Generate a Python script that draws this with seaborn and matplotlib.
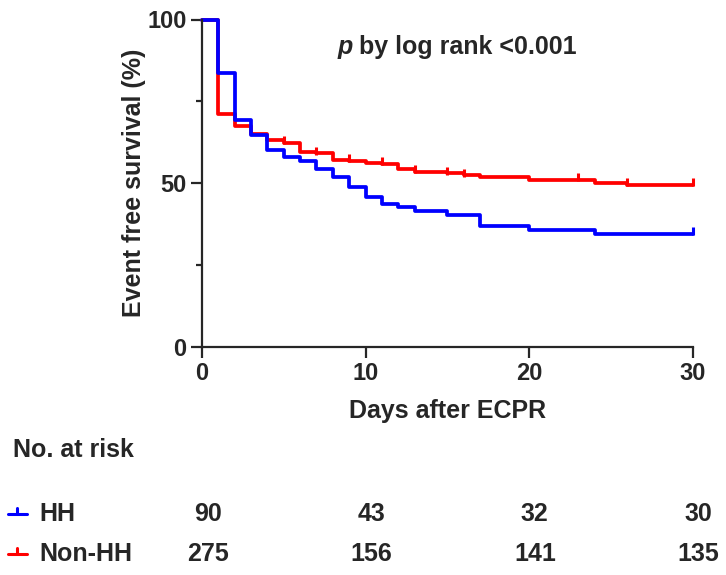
import matplotlib
matplotlib.use('Agg')
import matplotlib.pyplot as plt
import matplotlib.transforms as mtransforms
from matplotlib.lines import Line2D
import seaborn as sns
import numpy as np
import pandas as pd

# Kaplan-Meier steps (day, survival %)
hh_days = [0, 1, 2, 3, 4, 5, 6, 7, 8, 9, 10, 11, 12, 13, 15, 17, 20, 24, 30]
hh_surv = [100, 83.7, 69.3, 64.7, 60.1, 58.0, 56.8, 54.5, 52.0, 48.9, 45.7, 43.8, 42.7, 41.4,
           40.2, 36.8, 35.8, 34.6, 34.6]
nonhh_days = [0, 1, 2, 3, 4, 5, 6, 7, 8, 9, 10, 11, 12, 13, 15, 16, 17, 20, 24, 26, 30]
nonhh_surv = [100, 71.0, 67.4, 65.0, 63.2, 62.4, 59.6, 59.1, 57.2, 56.8, 56.2, 56.0, 54.2, 53.5,
              53.0, 52.4, 51.8, 51.1, 50.1, 49.6, 49.6]

# censor marks
hh_censor = [30]
nonhh_censor = [5, 7, 9, 11, 13, 15, 16, 23, 26, 30]

# numbers at risk
risk_times = [0, 10, 20, 30]
hh_risk = [90, 43, 32, 30]
nonhh_risk = [275, 156, 141, 135]

colors = {'HH': '#0000FF', 'Non-HH': '#FF0000'}

sns.set_style('ticks')
plt.rcParams['font.family'] = ['Liberation Sans', 'DejaVu Sans']
plt.rcParams['font.weight'] = 'bold'

df = pd.concat([
    pd.DataFrame({'day': hh_days, 'surv': hh_surv, 'group': 'HH'}),
    pd.DataFrame({'day': nonhh_days, 'surv': nonhh_surv, 'group': 'Non-HH'}),
])


def surv_at(days, surv, t):
    idx = np.searchsorted(days, t, side='right') - 1
    return surv[idx]


cens = pd.concat([
    pd.DataFrame({'day': hh_censor,
                  'surv': [surv_at(hh_days, hh_surv, t) for t in hh_censor], 'group': 'HH'}),
    pd.DataFrame({'day': nonhh_censor,
                  'surv': [surv_at(nonhh_days, nonhh_surv, t) for t in nonhh_censor], 'group': 'Non-HH'}),
])

W, H = 726, 575
fig = plt.figure(figsize=(W / 100, H / 100), dpi=100)
ax = fig.add_axes([202 / W, 1 - 347 / H, 490.7 / W, 327.5 / H])

# red first so the blue curve sits on top, as in the original
sns.lineplot(data=df, x='day', y='surv', hue='group', hue_order=['Non-HH', 'HH'],
             palette=colors, estimator=None, drawstyle='steps-post', linewidth=2.7,
             legend=False, ax=ax, clip_on=False)
for g in ['Non-HH', 'HH']:
    sub = cens[cens['group'] == g]
    ax.plot(sub['day'], sub['surv'] + 0.8, linestyle='none', marker='|', markersize=6,
            markeredgewidth=2.2, color=colors[g], clip_on=False)

ax.set_xlim(0, 30)
ax.set_ylim(0, 100)
ax.set_xticks([0, 10, 20, 30])
ax.set_yticks([0, 50, 100])
ax.set_yticks([25, 75], minor=True)
for s in ['top', 'right']:
    ax.spines[s].set_visible(False)
for s in ['left', 'bottom']:
    ax.spines[s].set_linewidth(1.6)
ax.tick_params(axis='both', which='major', length=8, width=1.6, labelsize=17, pad=3)
ax.tick_params(axis='y', which='minor', length=4, width=1.6)
ax.set_xlabel('Days after ECPR', fontsize=18, fontweight='bold', labelpad=10)
ax.set_ylabel('Event free survival (%)', fontsize=18, fontweight='bold', labelpad=1)

fig.text(353 / W, 1 - 47 / H, 'p', fontsize=18, fontweight='bold', fontstyle='italic',
         ha='right', va='center')
fig.text(359 / W, 1 - 47 / H, 'by log rank <0.001', fontsize=18, fontweight='bold',
         ha='left', va='center')

# number at risk table
fig.text(13 / W, 1 - 450 / H, 'No. at risk', fontsize=18, fontweight='bold',
         ha='left', va='center')
trans = mtransforms.blended_transform_factory(ax.transData, fig.transFigure)
rows = [('HH', hh_risk, 514), ('Non-HH', nonhh_risk, 554)]
for name, vals, ypx in rows:
    yf = 1 - ypx / H
    fig.text(39 / W, yf, name, fontsize=18, fontweight='bold', ha='left', va='center')
    fig.add_artist(Line2D([8 / W, 27 / W], [yf, yf], color=colors[name], lw=2.2))
    fig.add_artist(Line2D([17 / W, 17 / W], [yf, yf + 6 / H], color=colors[name], lw=2.2))
    for t, v in zip(risk_times, vals):
        ax.text(t + 0.35, yf, str(v), transform=trans, fontsize=18, fontweight='bold',
                ha='center', va='center')

fig.savefig('out.png', dpi=100)
